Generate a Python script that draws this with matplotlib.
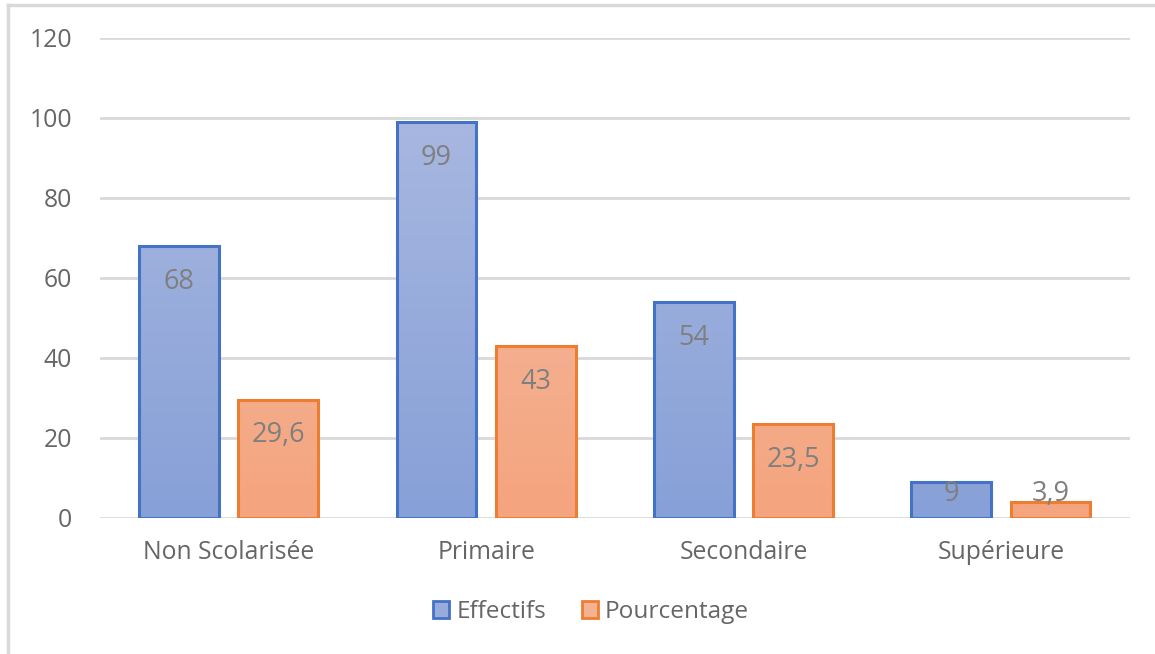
import numpy as np
import matplotlib.pyplot as plt
from matplotlib.patches import Patch
from matplotlib.lines import Line2D
from matplotlib.colors import LinearSegmentedColormap

categories = ["Non Scolarisée", "Primaire", "Secondaire", "Supérieure"]
effectifs = [68, 99, 54, 9]
pourcentage = [29.6, 43, 23.5, 3.9]
effectifs_labels = ["68", "99", "54", "9"]
pourcentage_labels = ["29,6", "43", "23,5", "3,9"]

plt.rcParams['font.family'] = ['Open Sans', 'DejaVu Sans']

fig = plt.figure(figsize=(11.55, 6.54), dpi=100)
ax = fig.add_axes([0.0866, 0.208, 0.8914, 0.734])

grad_bleu = LinearSegmentedColormap.from_list("bleu", ["#87A0D7", "#AAB9E1"])
grad_orange = LinearSegmentedColormap.from_list("orange", ["#F4A47E", "#F6C0A8"])

x = np.arange(len(categories))
largeur = 0.31
decalage = 0.193


def barres_degradees(positions, valeurs, textes, cmap, bord):
    barres = ax.bar(positions, valeurs, largeur, facecolor='none',
                    edgecolor=bord, linewidth=2.2, zorder=3)
    grad = np.linspace(0, 1, 256).reshape(-1, 1)
    for b, v, t in zip(barres, valeurs, textes):
        x0 = b.get_x()
        im = ax.imshow(grad, cmap=cmap, origin='lower', aspect='auto',
                       extent=[x0, x0 + largeur, 0, 120 * 0.9], zorder=2)
        im.set_clip_path(b)
        haut = max(v - 5.4, 9.6)
        ax.text(x0 + largeur / 2, haut, t, ha='center', va='top',
                fontsize=19.5, color='#7F7F7F', zorder=4)
    return barres


barres_degradees(x - decalage, effectifs, effectifs_labels, grad_bleu, '#4472C4')
barres_degradees(x + decalage, pourcentage, pourcentage_labels, grad_orange, '#ED7D31')

ax.set_xlim(-0.5, len(categories) - 0.5)
ax.set_ylim(0, 120)
ax.set_yticks(range(0, 121, 20))
ax.set_xticks(x)
ax.set_xticklabels(categories)
ax.tick_params(axis='both', length=0, labelsize=17.8, colors='#666666')
ax.tick_params(axis='x', pad=16)
ax.tick_params(axis='y', pad=20)
ax.grid(axis='y', color='#D9D9D9', linewidth=2, zorder=0)
ax.set_axisbelow(True)
for s in ax.spines.values():
    s.set_visible(False)

poignees = [
    Patch(facecolor='#98ACDC', edgecolor='#4472C4', linewidth=2, label='Effectifs'),
    Patch(facecolor='#F5B293', edgecolor='#ED7D31', linewidth=2, label='Pourcentage'),
]
leg = fig.legend(handles=poignees, loc='center', bbox_to_anchor=(0.512, 0.064),
                 ncol=2, frameon=False, fontsize=17.6, handlelength=0.65,
                 handleheight=0.65, handletextpad=0.3, columnspacing=1.45)
for t in leg.get_texts():
    t.set_color('#666666')

# cadre du graphique (bords gauche et haut)
fig.add_artist(Line2D([0.0069, 0.0069], [0.0, 0.992], color='#D9D9D9', linewidth=2.5))
fig.add_artist(Line2D([0.0069, 1.0], [0.992, 0.992], color='#D9D9D9', linewidth=2.5))

fig.savefig("out.png", dpi=100)
